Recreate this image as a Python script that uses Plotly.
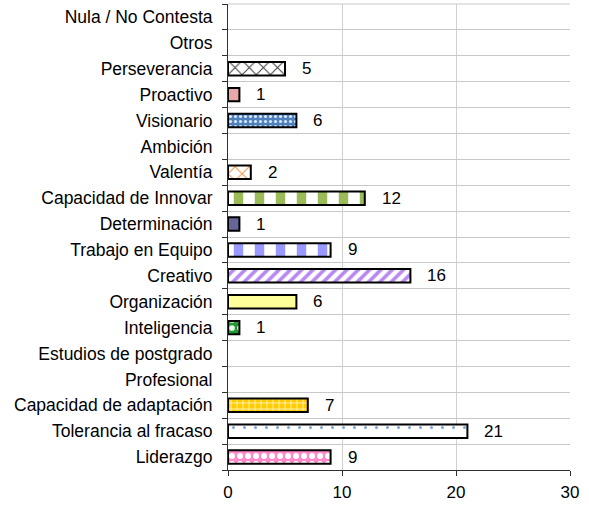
import plotly.graph_objects as go

categories = ["Liderazgo", "Tolerancia al fracaso", "Capacidad de adaptación", "Profesional",
              "Estudios de postgrado", "Inteligencia", "Organización", "Creativo",
              "Trabajo en Equipo", "Determinación", "Capacidad de Innovar", "Valentía",
              "Ambición", "Visionario", "Proactivo", "Perseverancia", "Otros", "Nula / No Contesta"]
values = [9, 21, 7, 0, 0, 1, 6, 16, 9, 1, 12, 2, 0, 6, 1, 5, 0, 0]
x_ticks = [0, 10, 20, 30]

# pattern foreground colour and background colour for each bar
fill_fg = ["white", "#7fa6d8", "#fff0b0", "white", "white", "#e8f8e8", "#ffff99", "#b888f0", "#9999ff",
           "#666699", "#9bbb59", "#f79646", "white", "#dde8ff", "#e8a8a8", "#404040", "white", "white"]
fill_bg = ["#ff88c8", "white", "#ffcc00", "white", "white", "#1f9a2f", "#ffff99", "white", "white",
           "#666699", "white", "white", "white", "#4f81bd", "#e8a8a8", "white", "white", "white"]
pat_shape = [".", ".", "+", "", "", ".", "", "/", "|", "", "|", "x", "", ".", "", "x", "", ""]
pat_size = [8, 11, 6, 8, 8, 8, 8, 8, 21, 8, 21, 10, 8, 5, 8, 10, 8, 8]
pat_sol = [0.45, 0.06, 0.3, 0.3, 0.3, 0.4, 0.3, 0.45, 0.45, 0.3, 0.45, 0.2, 0.3, 0.3, 0.3, 0.2, 0.3, 0.3]

font = "Liberation Sans, Arial, sans-serif"

fig = go.Figure()
for c, v, fg, bg, sh, sz, so in zip(categories, values, fill_fg, fill_bg, pat_shape, pat_size, pat_sol):
    fig.add_trace(go.Bar(
        x=[v], y=[c], orientation="h", width=0.52,
        marker=dict(
            color=bg,
            line=dict(color="black", width=2 if v else 0),
            pattern=dict(shape=sh, fgcolor=fg, bgcolor=bg, size=sz, solidity=so,
                         fgopacity=1, fillmode="overlay"),
        ),
        hoverinfo="skip",
    ))
    if v:
        fig.add_annotation(x=v, y=c, text=str(v), showarrow=False, xanchor="left",
                           xshift=15, font=dict(family=font, size=17, color="black"))

fig.update_layout(
    width=589, height=506,
    margin=dict(l=228, r=19, t=4, b=32),
    paper_bgcolor="white", plot_bgcolor="white",
    font=dict(family=font, size=17, color="black"),
    showlegend=False,
    barmode="overlay",
)
fig.update_xaxes(range=[0, 30], tickvals=x_ticks, showgrid=True, gridcolor="#d0d0d0", gridwidth=1,
                 showline=True, linecolor="#303030", linewidth=1, ticks="outside", ticklen=5,
                 tickcolor="#303030", zeroline=False, fixedrange=True, ticklabelstandoff=2,
                 tickfont=dict(size=17))
fig.update_yaxes(type="category", categoryorder="array", categoryarray=categories,
                 tickson="boundaries", ticks="outside", ticklen=5, tickcolor="#303030",
                 showgrid=True, gridcolor="#c8c8c8", gridwidth=1,
                 showline=True, linecolor="#303030", linewidth=1, ticklabelstandoff=11,
                 tickfont=dict(size=17.5), fixedrange=True)
fig.add_shape(type="line", xref="paper", yref="paper", x0=0, x1=1, y0=1, y1=1,
              line=dict(color="#c8c8c8", width=1), layer="below")

fig.write_html("out.html", config={"displayModeBar": False},
               post_script="document.body.style.margin='0';")
